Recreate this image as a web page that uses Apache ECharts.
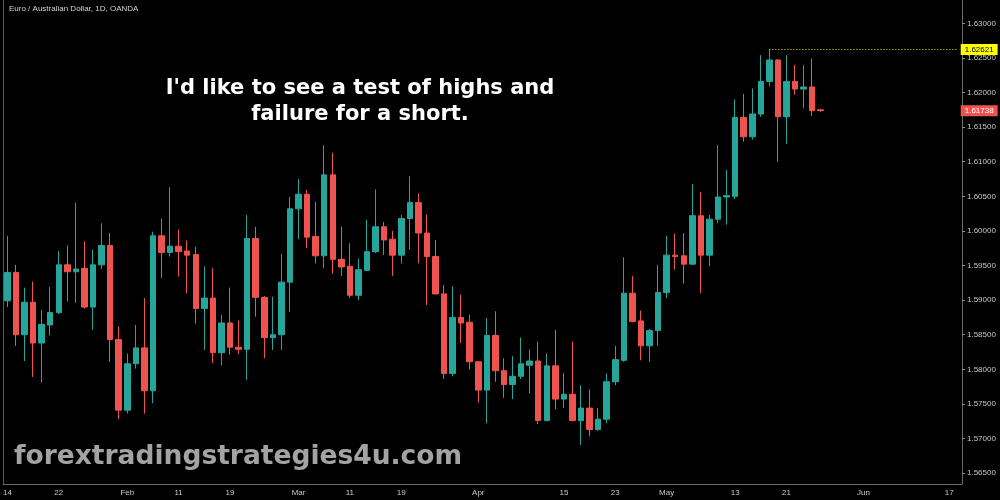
<!DOCTYPE html>
<html>
<head>
<meta charset="utf-8">
<title>EUR/AUD 1D</title>
<script src="https://cdn.jsdelivr.net/npm/echarts@6/dist/echarts.min.js"></script>
<style>
    html, body { margin: 0; padding: 0; background: #000; }
    #main { width: 1000px; height: 500px; }
</style>
</head>
<body>
<div id="main"></div>
<script>
// 日线数据 (2019)
var dates = [
    '2019-01-14', '2019-01-15', '2019-01-16', '2019-01-17', '2019-01-18', '2019-01-21', '2019-01-22', '2019-01-23', '2019-01-24', '2019-01-25',
    '2019-01-28', '2019-01-29', '2019-01-30', '2019-01-31', '2019-02-01', '2019-02-04', '2019-02-05', '2019-02-06', '2019-02-07', '2019-02-08',
    '2019-02-11', '2019-02-12', '2019-02-13', '2019-02-14', '2019-02-15', '2019-02-18', '2019-02-19', '2019-02-20', '2019-02-21', '2019-02-22',
    '2019-02-25', '2019-02-26', '2019-02-27', '2019-02-28', '2019-03-01', '2019-03-04', '2019-03-05', '2019-03-06', '2019-03-07', '2019-03-08',
    '2019-03-11', '2019-03-12', '2019-03-13', '2019-03-14', '2019-03-15', '2019-03-18', '2019-03-19', '2019-03-20', '2019-03-21', '2019-03-22',
    '2019-03-25', '2019-03-26', '2019-03-27', '2019-03-28', '2019-03-29', '2019-04-01', '2019-04-02', '2019-04-03', '2019-04-04', '2019-04-05',
    '2019-04-08', '2019-04-09', '2019-04-10', '2019-04-11', '2019-04-12', '2019-04-15', '2019-04-16', '2019-04-17', '2019-04-18', '2019-04-19',
    '2019-04-22', '2019-04-23', '2019-04-24', '2019-04-25', '2019-04-26', '2019-04-29', '2019-04-30', '2019-05-01', '2019-05-02', '2019-05-03',
    '2019-05-06', '2019-05-07', '2019-05-08', '2019-05-09', '2019-05-10', '2019-05-13', '2019-05-14', '2019-05-15', '2019-05-16', '2019-05-17',
    '2019-05-20', '2019-05-21', '2019-05-22', '2019-05-23', '2019-05-24', '2019-05-27'
];
// 右侧空白的未来日期
var futureDates = [
    '2019-05-28', '2019-05-29', '2019-05-30', '2019-05-31', '2019-06-03', '2019-06-04', '2019-06-05', '2019-06-06',
    '2019-06-07', '2019-06-10', '2019-06-11', '2019-06-12', '2019-06-13', '2019-06-14', '2019-06-17', '2019-06-18'
];

var opens = [
    1.5899, 1.5940, 1.5850, 1.5897, 1.5838, 1.5864, 1.5882, 1.5951, 1.5941, 1.5946,
    1.5890, 1.5951, 1.5979, 1.5843, 1.5741, 1.5808, 1.5831, 1.5769, 1.5993, 1.5969,
    1.5978, 1.5971, 1.5966, 1.5888, 1.5903, 1.5824, 1.5867, 1.5832, 1.5829, 1.5989,
    1.5904, 1.5846, 1.5850, 1.5926, 1.6032, 1.6053, 1.5992, 1.5964, 1.6081, 1.5959,
    1.5949, 1.5907, 1.5943, 1.5970, 1.6006, 1.5988, 1.5965, 1.6018, 1.6041, 1.5997,
    1.5963, 1.5909, 1.5794, 1.5875, 1.5868, 1.5811, 1.5770, 1.5849, 1.5798, 1.5778,
    1.5790, 1.5806, 1.5812, 1.5726, 1.5805, 1.5757, 1.5764, 1.5726, 1.5744, 1.5713,
    1.5728, 1.5782, 1.5813, 1.5910, 1.5870, 1.5834, 1.5856, 1.5911, 1.5965, 1.5964,
    1.5952, 1.6022, 1.5965, 1.6017, 1.6049, 1.6050, 1.6164, 1.6136, 1.6169, 1.6216,
    1.6247, 1.6165, 1.6216, 1.6205, 1.6208, 1.6175
];
var highs = [
    1.5993, 1.5951, 1.5918, 1.5927, 1.5886, 1.5919, 1.5971, 1.5979, 1.6041, 1.5985,
    1.5973, 1.6011, 1.5997, 1.5862, 1.5823, 1.5864, 1.5903, 1.5999, 1.6018, 1.6063,
    1.6002, 1.5986, 1.5977, 1.5949, 1.5946, 1.5878, 1.5918, 1.5871, 1.6023, 1.6006,
    1.5906, 1.5905, 1.5967, 1.6049, 1.6075, 1.6059, 1.6042, 1.6124, 1.6113, 1.6006,
    1.5982, 1.5960, 1.6016, 1.6060, 1.6013, 1.6000, 1.6023, 1.6079, 1.6054, 1.6024,
    1.5987, 1.5922, 1.5920, 1.5908, 1.5879, 1.5812, 1.5874, 1.5884, 1.5816, 1.5819,
    1.5846, 1.5829, 1.5840, 1.5823, 1.5857, 1.5795, 1.5840, 1.5777, 1.5771, 1.5744,
    1.5794, 1.5834, 1.5962, 1.5935, 1.5885, 1.5858, 1.5951, 1.5993, 1.5996, 1.5997,
    1.6068, 1.6056, 1.6023, 1.6124, 1.6088, 1.6190, 1.6198, 1.6206, 1.6254, 1.62621,
    1.6248, 1.6254, 1.6240, 1.6240, 1.6249, 1.6176
];
var lows = [
    1.5890, 1.5834, 1.5812, 1.5789, 1.5781, 1.5849, 1.5880, 1.5898, 1.5896, 1.5888,
    1.5857, 1.5945, 1.5811, 1.5728, 1.5736, 1.5801, 1.5736, 1.5751, 1.5932, 1.5963,
    1.5934, 1.5910, 1.5866, 1.5828, 1.5809, 1.5806, 1.5821, 1.5822, 1.5785, 1.5876,
    1.5816, 1.5828, 1.5828, 1.5883, 1.5988, 1.5975, 1.5953, 1.5946, 1.5938, 1.5935,
    1.5903, 1.5900, 1.5942, 1.5968, 1.5965, 1.5935, 1.5953, 1.5973, 1.5953, 1.5893,
    1.5908, 1.5786, 1.5790, 1.5838, 1.5800, 1.5752, 1.5722, 1.5782, 1.5759, 1.5757,
    1.5786, 1.5765, 1.5721, 1.5725, 1.5742, 1.5744, 1.5725, 1.5691, 1.5703, 1.5711,
    1.5722, 1.5777, 1.5811, 1.5868, 1.5813, 1.5811, 1.5834, 1.5903, 1.5944, 1.5924,
    1.5951, 1.5910, 1.5949, 1.6011, 1.6009, 1.6046, 1.6129, 1.6132, 1.6165, 1.6209,
    1.6100, 1.6126, 1.6197, 1.6177, 1.6166, 1.6172
];
var closes = [
    1.5940, 1.5850, 1.5897, 1.5838, 1.5865, 1.5882, 1.5951, 1.5941, 1.5945, 1.5890,
    1.5951, 1.5979, 1.5843, 1.5741, 1.5808, 1.5831, 1.5769, 1.5993, 1.5969, 1.5978,
    1.5970, 1.5965, 1.5888, 1.5903, 1.5824, 1.5867, 1.5832, 1.5829, 1.5989, 1.5904,
    1.5846, 1.5850, 1.5926, 1.6032, 1.6053, 1.5991, 1.5964, 1.6081, 1.5959, 1.5948,
    1.5907, 1.5944, 1.5970, 1.6006, 1.5987, 1.5965, 1.6018, 1.6041, 1.5997, 1.5963,
    1.5909, 1.5794, 1.5875, 1.5867, 1.5811, 1.5770, 1.5849, 1.5798, 1.5778, 1.5790,
    1.5808, 1.5812, 1.5726, 1.5805, 1.5757, 1.5764, 1.5726, 1.5744, 1.5713, 1.5728,
    1.5782, 1.5814, 1.5910, 1.5869, 1.5834, 1.5856, 1.5911, 1.5965, 1.5963, 1.5952,
    1.6022, 1.5965, 1.6017, 1.6049, 1.6051, 1.6164, 1.6136, 1.6169, 1.6216, 1.6247,
    1.6165, 1.6216, 1.6205, 1.6208, 1.61738, 1.61738
];

// 横轴刻度
var tickDates = [
    '2019-01-14', '2019-01-22', '2019-02-01', '2019-02-11', '2019-02-19', '2019-03-01', '2019-03-11', '2019-03-19',
    '2019-04-01', '2019-04-15', '2019-04-23', '2019-05-01', '2019-05-13', '2019-05-21', '2019-06-03', '2019-06-17'
];
var tickLabels = ['14', '22', 'Feb', '11', '19', 'Mar', '11', '19', 'Apr', '15', '23', 'May', '13', '21', 'Jun', '17'];

// 最高点和最新价
var highDate = '2019-05-17';
var highPrice = 1.62621;
var lastDate = '2019-05-27';
var lastPrice = 1.61738;

var categories = dates.concat(futureDates);
var candles = [];
for (var i = 0; i < dates.length; i++) {
    // echarts 顺序: open, close, low, high
    candles.push([opens[i], closes[i], lows[i], highs[i]]);
}
var lastCat = categories[categories.length - 1];

var myChart = echarts.init(document.getElementById('main'), null, { renderer: 'canvas' });

var option = {
    backgroundColor: '#000000',
    animation: false,
    grid: {
        left: 2,
        right: 38,
        top: 0,
        bottom: 16
    },
    xAxis: {
        type: 'category',
        data: categories,
        boundaryGap: true,
        axisLine: { lineStyle: { color: '#6a6a6a', width: 1 } },
        axisTick: {
            length: 2,
            alignWithLabel: true,
            lineStyle: { color: '#8a8a8a' },
            interval: function(idx, val) { return tickDates.indexOf(val) >= 0; }
        },
        axisLabel: {
            color: '#c8c8c8',
            fontSize: 8,
            fontFamily: 'Liberation Sans',
            margin: 5,
            interval: function(idx, val) { return tickDates.indexOf(val) >= 0; },
            formatter: function(val) {
                var k = tickDates.indexOf(val);
                return k >= 0 ? tickLabels[k] : '';
            }
        },
        splitLine: { show: false }
    },
    yAxis: {
        type: 'value',
        position: 'right',
        min: 1.56343,
        max: 1.63337,
        splitNumber: 14,
        axisLine: { show: true, lineStyle: { color: '#6a6a6a', width: 1 } },
        axisTick: { show: true, length: 3, lineStyle: { color: '#8a8a8a' } },
        axisLabel: {
            color: '#c8c8c8',
            fontSize: 8,
            fontFamily: 'Liberation Sans',
            margin: 5,
            showMinLabel: false,
            showMaxLabel: false,
            formatter: function(v) { return v.toFixed(5); }
        },
        splitLine: { show: false }
    },
    series: [{
        type: 'candlestick',
        data: candles,
        barWidth: 6,
        itemStyle: {
            color: '#26a69a',
            color0: '#ef5350',
            borderColor: '#26a69a',
            borderColor0: '#ef5350',
            borderWidth: 1
        },
        markLine: {
            silent: true,
            symbol: 'none',
            data: [
                [{
                    coord: [highDate, highPrice],
                    lineStyle: { color: '#f0f000', type: [1, 2], width: 1 },
                    label: {
                        show: true,
                        position: 'end',
                        distance: 3,
                        formatter: highPrice.toFixed(5),
                        backgroundColor: '#ffff00',
                        color: '#000000',
                        fontSize: 8,
                        fontFamily: 'Liberation Sans',
                        padding: [2, 4, 1, 4]
                    }
                }, {
                    coord: [lastCat, highPrice]
                }],
                [{
                    coord: [lastDate, lastPrice],
                    lineStyle: { color: 'rgba(0,0,0,0)', width: 1 },
                    label: {
                        show: true,
                        position: 'end',
                        distance: 3,
                        formatter: lastPrice.toFixed(5),
                        backgroundColor: '#ef5350',
                        color: '#ffffff',
                        fontSize: 8,
                        fontFamily: 'Liberation Sans',
                        padding: [2, 4, 1, 4]
                    }
                }, {
                    coord: [lastCat, lastPrice]
                }]
            ]
        }
    }],
    graphic: [{
        type: 'rect',
        left: 3,
        top: 0,
        shape: { width: 1, height: 484 },
        style: { fill: '#5a5a5a' }
    }, {
        type: 'text',
        left: 9,
        top: 5,
        style: {
            text: 'Euro / Australian Dollar, 1D, OANDA',
            fill: '#d1d4dc',
            font: '8px "Liberation Sans"'
        }
    }, {
        type: 'text',
        x: 360,
        y: 76,
        style: {
            text: "I'd like to see a test of highs and\nfailure for a short.",
            fill: '#ffffff',
            font: 'bold 21px "DejaVu Sans"',
            align: 'center',
            lineHeight: 26
        }
    }, {
        type: 'text',
        x: 14,
        y: 444,
        style: {
            text: 'forextradingstrategies4u.com',
            fill: '#a3a3a3',
            font: 'bold 26.5px "DejaVu Sans"'
        }
    }]
};

myChart.setOption(option);
</script>
</body>
</html>
